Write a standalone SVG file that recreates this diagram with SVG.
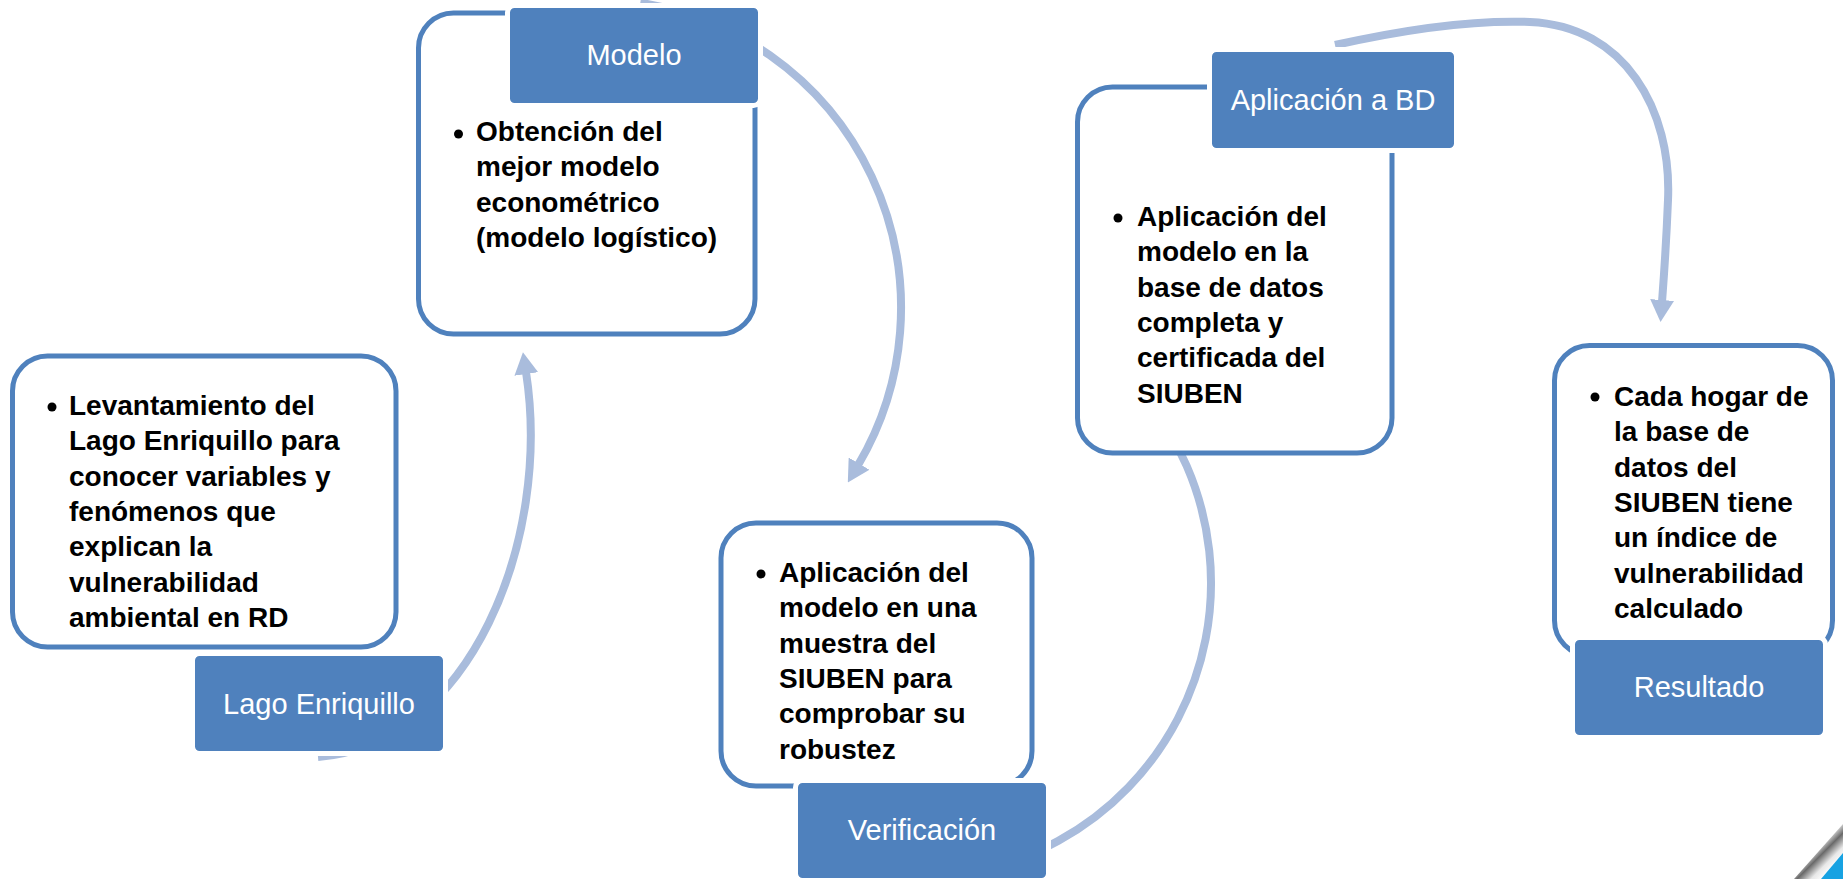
<svg xmlns="http://www.w3.org/2000/svg" width="1843" height="879" viewBox="0 0 1843 879">
<defs>
<style>
.box{fill:#ffffff;stroke:#4F81BD;stroke-width:5}
.hdr{fill:#4F81BD;stroke:#ffffff;stroke-width:5}
.hl{font-family:"Liberation Sans",Arial,sans-serif;font-size:29px;fill:#ffffff;text-anchor:middle}
.bt{font-family:"Liberation Sans",Arial,sans-serif;font-size:28px;font-weight:bold;fill:#000000}
.dot{fill:#000000}
.arc{fill:none;stroke:#A9BCDC;stroke-width:8}
</style>
<marker id="ah" markerUnits="userSpaceOnUse" markerWidth="22" markerHeight="24" viewBox="0 0 22 24" refX="2" refY="12" orient="auto">
<path d="M0,0 L22,12 L0,24 Z" fill="#A9BCDC"/>
</marker>
<linearGradient id="curl" gradientUnits="userSpaceOnUse" x1="1814" y1="848" x2="1834" y2="868">
<stop offset="0" stop-color="#ffffff"/>
<stop offset="0.35" stop-color="#6a6a6a"/>
<stop offset="0.7" stop-color="#e8e8e8"/>
<stop offset="1" stop-color="#ffffff"/>
</linearGradient>
</defs>
<rect width="1843" height="879" fill="#ffffff"/>

<g id="connectors">
<path class="arc" d="M318,757 C470,745 552,540 526,372" marker-end="url(#ah)"/>
<path class="arc" d="M640.3,2.8 A309,309 0 0 1 858,465.3" marker-end="url(#ah)"/>
<path class="arc" d="M891.4,875.9 A294,294 0 0 0 1142.2,394" marker-end="url(#ah)"/>
<path class="arc" d="M1335,45 C1420,26 1480,20 1530,22 C1625,26 1672,110 1668,200 C1666,250 1664,275 1662,302" marker-end="url(#ah)"/>
</g>

<g id="node-lago">
<rect class="box" x="12.5" y="356" width="383.5" height="291" rx="35"/>
<circle class="dot" cx="52" cy="407" r="4.5"/>
<text class="bt" x="69" y="415">Levantamiento del</text>
<text class="bt" x="69" y="450.3">Lago Enriquillo para</text>
<text class="bt" x="69" y="485.6">conocer variables y</text>
<text class="bt" x="69" y="520.9">fenómenos que</text>
<text class="bt" x="69" y="556.2">explican la</text>
<text class="bt" x="69" y="591.5">vulnerabilidad</text>
<text class="bt" x="69" y="626.8">ambiental en RD</text>
<rect class="hdr" x="192.5" y="653.5" width="253" height="100" rx="7"/>
<text class="hl" x="319" y="713.5">Lago Enriquillo</text>
</g>

<g id="node-modelo">
<rect class="box" x="418.5" y="13" width="336.5" height="321" rx="35"/>
<circle class="dot" cx="458.5" cy="134" r="4.5"/>
<text class="bt" x="476" y="141">Obtención del</text>
<text class="bt" x="476" y="176.3">mejor modelo</text>
<text class="bt" x="476" y="211.6">econométrico</text>
<text class="bt" x="476" y="246.9">(modelo logístico)</text>
<rect class="hdr" x="507.5" y="5.5" width="253" height="100" rx="7"/>
<text class="hl" x="634" y="65">Modelo</text>
</g>

<g id="node-verificacion">
<rect class="box" x="721" y="523" width="311" height="263" rx="35"/>
<circle class="dot" cx="761" cy="574" r="4.5"/>
<text class="bt" x="779" y="582">Aplicación del</text>
<text class="bt" x="779" y="617.3">modelo en una</text>
<text class="bt" x="779" y="652.6">muestra del</text>
<text class="bt" x="779" y="687.9">SIUBEN para</text>
<text class="bt" x="779" y="723.2">comprobar su</text>
<text class="bt" x="779" y="758.5">robustez</text>
<rect class="hdr" x="795.5" y="780.5" width="253" height="100" rx="7"/>
<text class="hl" x="922" y="840">Verificación</text>
</g>

<g id="node-aplicacion">
<rect class="box" x="1077.5" y="87" width="314.5" height="366" rx="35"/>
<circle class="dot" cx="1118" cy="218" r="4.5"/>
<text class="bt" x="1137" y="226">Aplicación del</text>
<text class="bt" x="1137" y="261.3">modelo en la</text>
<text class="bt" x="1137" y="296.6">base de datos</text>
<text class="bt" x="1137" y="331.9">completa y</text>
<text class="bt" x="1137" y="367.2">certificada del</text>
<text class="bt" x="1137" y="402.5">SIUBEN</text>
<rect class="hdr" x="1209.5" y="49.5" width="247" height="101" rx="7"/>
<text class="hl" x="1333" y="109.5">Aplicación a BD</text>
</g>

<g id="node-resultado">
<rect class="box" x="1554.5" y="345.5" width="278" height="310" rx="35"/>
<circle class="dot" cx="1595" cy="397" r="4.5"/>
<text class="bt" x="1614" y="406">Cada hogar de</text>
<text class="bt" x="1614" y="441.3">la base de</text>
<text class="bt" x="1614" y="476.6">datos del</text>
<text class="bt" x="1614" y="511.9">SIUBEN tiene</text>
<text class="bt" x="1614" y="547.2">un índice de</text>
<text class="bt" x="1614" y="582.5">vulnerabilidad</text>
<text class="bt" x="1614" y="617.8">calculado</text>
<rect class="hdr" x="1572.5" y="637.5" width="253" height="100" rx="7"/>
<text class="hl" x="1699" y="697">Resultado</text>
</g>

<g id="page-corner">
<polygon points="1843,824 1843,879 1794,879" fill="url(#curl)"/>
<polygon points="1843,853 1843,879 1821,879" fill="#17A2E2"/>
</g>
</svg>
